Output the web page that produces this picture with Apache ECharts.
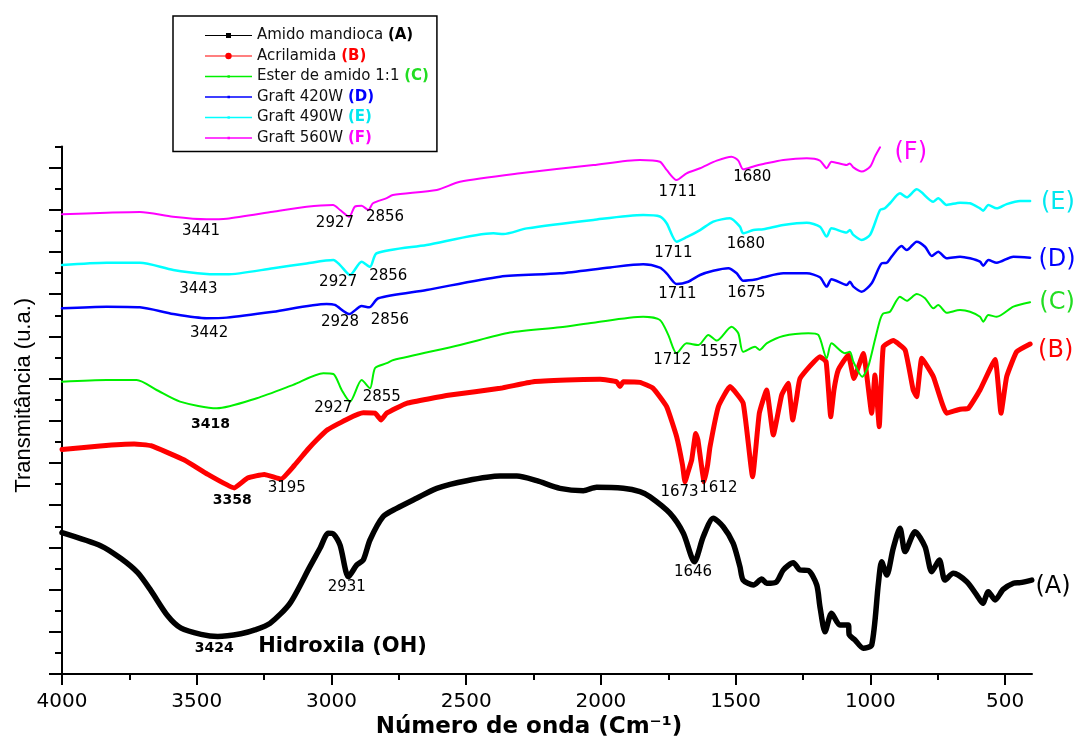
<!DOCTYPE html>
<html>
<head>
<meta charset="utf-8">
<title>FTIR - amido de mandioca</title>
<script src="https://cdn.jsdelivr.net/npm/echarts@6/dist/echarts.min.js"></script>
<style>
  html, body { margin: 0; padding: 0; background: #fff; }
  #chart { width: 1082px; height: 740px; }
</style>
</head>
<body>
<div id="chart"></div>
<script>
const amidoMandioca = [[4000,6.70],[3855,6.07],[3781,5.47],[3719,4.80],[3670,3.95],[3608,2.76],[3558,2.17],[3484,1.88],[3422,1.78],[3336,1.91],[3284,2.09],[3228,2.40],[3154,3.35],[3080,5.09],[3042,5.97],[3012,6.67],[2993,6.64],[2968,6.11],[2937,4.61],[2906,5.17],[2882,5.40],[2857,6.35],[2808,7.46],[2758,7.85],[2684,8.33],[2609,8.80],[2498,9.16],[2374,9.38],[2312,9.38],[2238,9.16],[2152,8.80],[2065,8.69],[2016,8.85],[1917,8.80],[1855,8.64],[1818,8.40],[1744,7.62],[1694,6.67],[1653,5.32],[1620,6.51],[1583,7.38],[1546,6.98],[1509,6.19],[1484,5.09],[1472,4.45],[1434,4.22],[1403,4.50],[1385,4.30],[1348,4.37],[1323,4.93],[1286,5.27],[1261,4.93],[1230,4.90],[1199,4.22],[1187,3.19],[1168,2.00],[1144,2.88],[1113,2.32],[1082,2.32],[1078,1.85],[1057,1.61],[1026,1.22],[995,1.37],[970,4.30],[958,5.32],[939,4.69],[915,5.96],[890,6.91],[871,5.80],[834,6.74],[797,6.03],[772,4.85],[744,5.40],[723,4.45],[692,4.77],[642,4.37],[605,3.74],[583,3.35],[562,3.90],[537,3.51],[507,4.01],[469,4.30],[444,4.33],[401,4.45]];

const acrilamida = [[4000,10.64],[3859,10.81],[3732,10.90],[3670,10.82],[3546,10.14],[3459,9.46],[3361,8.82],[3311,9.29],[3249,9.46],[3187,9.24],[3138,9.88],[3088,10.64],[3055,11.09],[3014,11.58],[2940,12.09],[2882,12.38],[2838,12.36],[2816,12.04],[2795,12.36],[2721,12.83],[2560,13.22],[2374,13.54],[2251,13.85],[2127,13.93],[2003,13.97],[1941,13.85],[1929,13.62],[1917,13.85],[1855,13.82],[1806,13.54],[1756,12.67],[1719,11.25],[1697,9.90],[1688,9.11],[1676,9.60],[1663,10.14],[1648,11.40],[1640,11.10],[1628,10.00],[1617,9.11],[1604,9.90],[1595,10.77],[1564,12.67],[1521,13.62],[1472,12.84],[1437,9.35],[1412,12.36],[1385,13.46],[1360,11.33],[1329,13.22],[1305,13.78],[1288,12.04],[1273,13.14],[1261,14.01],[1187,15.04],[1164,14.79],[1147,12.19],[1135,13.46],[1119,14.41],[1082,15.12],[1061,14.01],[1026,15.19],[995,12.36],[983,14.17],[967,11.72],[952,15.51],[915,15.80],[871,15.36],[841,13.46],[828,13.14],[809,14.96],[766,14.09],[717,12.36],[667,12.55],[636,12.59],[593,13.46],[537,14.91],[515,12.36],[494,14.09],[457,15.27],[407,15.64]];

const esterAmido = [[4000,13.85],[3834,13.93],[3723,13.93],[3649,13.46],[3562,12.91],[3426,12.59],[3277,13.07],[3142,13.70],[3030,14.25],[2993,14.22],[2962,13.46],[2931,12.91],[2888,13.93],[2857,13.54],[2838,14.50],[2795,14.73],[2770,14.88],[2523,15.59],[2337,16.18],[2152,16.43],[2028,16.65],[1843,16.93],[1781,16.78],[1750,16.07],[1719,15.20],[1682,15.67],[1638,15.59],[1601,16.07],[1570,15.80],[1515,16.46],[1490,16.15],[1472,15.27],[1428,15.51],[1410,15.36],[1385,15.67],[1323,16.02],[1230,16.15],[1193,16.07],[1162,14.96],[1144,15.67],[1095,15.20],[1076,15.27],[1063,14.80],[1030,14.09],[1008,14.56],[983,15.83],[964,16.78],[952,17.09],[927,17.17],[890,17.88],[865,17.69],[828,18.01],[797,17.81],[766,17.33],[748,17.49],[717,17.12],[667,17.25],[630,17.17],[593,16.93],[581,16.70],[562,17.01],[531,16.93],[469,17.41],[407,17.62]];

const graft420 = [[4000,17.33],[3834,17.41],[3711,17.38],[3587,17.06],[3463,16.86],[3389,16.89],[3216,17.17],[3018,17.54],[2987,17.49],[2934,17.06],[2888,17.44],[2860,17.38],[2826,17.81],[2647,18.20],[2374,18.83],[2152,18.99],[1966,19.27],[1843,19.42],[1781,19.26],[1756,18.99],[1719,18.48],[1676,18.59],[1632,18.91],[1583,19.11],[1527,19.23],[1496,18.99],[1472,18.64],[1422,18.71],[1397,18.80],[1323,18.99],[1236,18.99],[1187,18.80],[1162,18.36],[1144,18.71],[1088,18.44],[1076,18.59],[1063,18.36],[1032,18.12],[995,18.52],[958,19.46],[939,19.49],[921,19.78],[884,20.28],[865,20.09],[828,20.49],[797,20.25],[772,19.81],[748,20.01],[717,19.70],[667,19.78],[630,19.70],[593,19.54],[581,19.35],[562,19.62],[531,19.49],[469,19.78],[407,19.73]];

const graft490 = [[4000,19.38],[3834,19.49],[3711,19.49],[3587,19.15],[3463,18.96],[3389,18.94],[3216,19.23],[3092,19.46],[2993,19.62],[2968,19.38],[2931,18.91],[2888,19.54],[2857,19.30],[2832,19.94],[2647,20.33],[2399,20.89],[2362,20.85],[2275,21.12],[2028,21.52],[1843,21.75],[1781,21.68],[1756,21.36],[1719,20.49],[1682,20.70],[1632,21.04],[1583,21.44],[1521,21.60],[1484,21.20],[1472,20.89],[1434,21.04],[1397,21.08],[1323,21.28],[1236,21.39],[1187,21.20],[1162,20.73],[1144,21.12],[1088,20.92],[1076,21.04],[1063,20.81],[1032,20.57],[1001,20.81],[964,21.99],[946,22.07],[927,22.31],[890,22.78],[865,22.59],[828,22.97],[766,22.38],[748,22.55],[717,22.23],[667,22.34],[630,22.31],[593,22.07],[581,21.96],[562,22.23],[531,22.07],[494,22.27],[444,22.42],[407,22.42]];

const graft560 = [[4000,21.79],[3834,21.86],[3711,21.90],[3588,21.67],[3463,21.55],[3389,21.58],[3217,21.91],[3092,22.15],[2994,22.23],[2968,21.99],[2934,21.67],[2913,22.15],[2888,22.19],[2863,21.99],[2846,22.31],[2795,22.55],[2772,22.70],[2609,22.94],[2523,23.33],[2300,23.73],[2028,24.12],[1855,24.36],[1781,24.28],[1756,23.89],[1719,23.41],[1682,23.73],[1632,23.97],[1570,24.33],[1515,24.52],[1490,24.33],[1472,23.92],[1428,24.08],[1397,24.17],[1323,24.36],[1236,24.44],[1187,24.33],[1162,23.97],[1144,24.28],[1088,24.12],[1076,24.20],[1063,24.01],[1032,23.81],[1001,24.04],[983,24.52],[964,24.96]];

// eixos
const xMajorTicks = [4000, 3500, 3000, 2500, 2000, 1500, 1000, 500];
const xMinorTicks = [3750, 3250, 2750, 2250, 1750, 1250, 750];
const yMajorTicks = [0, 2, 4, 6, 8, 10, 12, 14, 16, 18, 20, 22, 24];
const yMinorTicks = [1, 3, 5, 7, 9, 11, 13, 15, 17, 19, 21, 23, 25];

// legenda
const seriesNames = ['Amido mandioca', 'Acrilamida', 'Ester de amido 1:1', 'Graft 420W', 'Graft 490W', 'Graft 560W'];
const seriesTags = ['A', 'B', 'C', 'D', 'E', 'F'];

// anotacoes dos picos: [numero de onda, transmitancia, texto]
const peakLabels = [
  [3484, 21.00, '3441'], [2987, 21.36, '2927'], [2801, 21.64, '2856'], [1715, 22.85, '1711'], [1438, 23.57, '1680'],
  [3494, 18.25, '3443'], [2975, 18.59, '2927'], [2789, 18.86, '2856'], [1731, 19.94, '1711'], [1462, 20.38, '1680'],
  [3454, 16.15, '3442'], [2968, 16.66, '2928'], [2783, 16.75, '2856'], [1716, 18.00, '1711'], [1460, 18.06, '1675'],
  [2993, 12.59, '2927'], [2813, 13.10, '2855'], [1735, 14.88, '1712'], [1562, 15.27, '1557'],
  [3166, 8.80, '3195'], [1708, 8.64, '1673'], [1564, 8.79, '1612'],
  [2943, 4.14, '2931'], [1658, 4.83, '1646']
];
const boldPeakLabels = [[3449, 11.84, '3418'], [3368, 8.24, '3358'], [3435, 1.20, '3424']];
const bandLabels = [[2959, 1.29, 'Hidroxila (OH)']];
const curveTags = [[322, 4.14, '(A)'], [312, 15.32, '(B)'], [307, 17.58, '(C)'], [307, 19.62, '(D)'], [304, 22.35, '(E)'], [850, 24.72, '(F)']];

const FONT = 'DejaVu Sans';
const colors = ['#000000', '#ff0000', '#00f000', '#0000ff', '#00ffff', '#ff00ff'];
const tagColors = ['#000000', '#ff0000', '#22dd22', '#0000ff', '#00e8f0', '#ff00ff'];
const widths = [5.5, 5, 2, 2.5, 2.5, 2];
const allData = [amidoMandioca, acrilamida, esterAmido, graft420, graft490, graft560];

// icones da legenda: linha fina com marcador (caixa 47 x 14)
const pad = 'M0,0h0.02v0.02zM47,14h-0.02v-0.02z';
const icons = [
  'path://' + pad + 'M0,6.5h47v1h-47zM21,4.5h5v5h-5z',
  'path://' + pad + 'M0,6.5h47v1h-47zM20.3,7a3.2,3.2 0 1,1 6.4,0a3.2,3.2 0 1,1 -6.4,0z',
  'path://' + pad + 'M0,6.2h47v1.6h-47zM22.5,5.8h2.4v2.4h-2.4z',
  'path://' + pad + 'M0,6.2h47v1.6h-47zM22.5,5.8h2.4v2.4h-2.4z',
  'path://' + pad + 'M0,6.2h47v1.6h-47zM22.5,5.8h2.4v2.4h-2.4z',
  'path://' + pad + 'M0,6.2h47v1.6h-47zM22.5,5.8h2.4v2.4h-2.4z'
];

const rich = {};
seriesTags.forEach((t, i) => {
  rich['t' + t] = { fontFamily: FONT, fontSize: 15, fontWeight: 'bold', color: tagColors[i] };
});
rich.n = { fontFamily: FONT, fontSize: 15, color: '#111' };

const lineSeries = seriesNames.map((name, i) => ({
  name: name,
  type: 'line',
  data: allData[i],
  showSymbol: false,
  smooth: i === 1 ? 0.12 : 0.25,
  color: colors[i],
  lineStyle: { color: colors[i], width: widths[i], cap: 'round', join: 'round' },
  z: 2 + i
}));

function textPoint(item, style) {
  return {
    value: [item[0], item[1]],
    label: Object.assign({
      show: true, position: 'inside', formatter: item[2], fontFamily: FONT,
      color: '#000', opacity: 1, textBorderWidth: 0
    }, style)
  };
}

const annotationData = []
  .concat(peakLabels.map(p => textPoint(p, { fontSize: 15 })))
  .concat(boldPeakLabels.map(p => textPoint(p, { fontSize: 14, fontWeight: 'bold' })))
  .concat(bandLabels.map(p => textPoint(p, { fontSize: 21, fontWeight: 'bold' })))
  .concat(curveTags.map((p, i) => textPoint(p, { fontSize: 24, color: tagColors[i] })));

const chart = echarts.init(document.getElementById('chart'));
chart.setOption({
  animation: false,
  backgroundColor: '#fff',
  grid: { left: 62, right: 50, top: 146.5, bottom: 66, containLabel: false, outerBoundsMode: 'none' },
  legend: {
    orient: 'vertical',
    left: 173,
    top: 16,
    itemWidth: 47,
    itemHeight: 14,
    itemGap: 5.5,
    padding: [12, 8, 6, 32],
    borderColor: '#000',
    borderWidth: 1.5,
    backgroundColor: '#fff',
    selectedMode: false,
    itemStyle: { borderWidth: 0 },
    textStyle: { fontFamily: FONT, fontSize: 15, color: '#111', rich: rich },
    formatter: function (name) {
      const i = seriesNames.indexOf(name);
      return '{n|' + name + '} {t' + seriesTags[i] + '|(' + seriesTags[i] + ')}';
    },
    data: seriesNames.map((name, i) => ({ name: name, icon: icons[i] }))
  },
  xAxis: [{
    type: 'value',
    inverse: true,
    min: 400,
    max: 4000,
    position: 'bottom',
    name: 'Número de onda (Cm⁻¹)',
    nameLocation: 'middle',
    nameGap: 42,
    nameMoveOverlap: false,
    nameTextStyle: { fontFamily: FONT, fontWeight: 'bold', fontSize: 23, color: '#000', padding: [0, 36, 0, 0] },
    axisLine: { onZero: false, lineStyle: { color: '#000', width: 2 } },
    axisTick: { customValues: xMajorTicks, length: 11, lineStyle: { color: '#000', width: 2 } },
    axisLabel: {
      customValues: xMajorTicks, margin: 18, fontFamily: FONT, fontSize: 20, color: '#000',
      formatter: function (v) { return String(v); }
    },
    splitLine: { show: false }
  }, {
    type: 'value',
    inverse: true,
    min: 400,
    max: 4000,
    position: 'bottom',
    axisLine: { show: false, onZero: false },
    axisTick: { customValues: xMinorTicks, length: 6, lineStyle: { color: '#000', width: 2 } },
    axisLabel: { show: false },
    splitLine: { show: false }
  }],
  yAxis: [{
    type: 'value',
    min: 0,
    max: 25,
    position: 'left',
    name: 'Transmitância (u.a.)',
    nameLocation: 'middle',
    nameGap: 27,
    nameRotate: 90,
    nameMoveOverlap: false,
    nameTextStyle: { fontFamily: 'Liberation Sans', fontSize: 22, color: '#000', padding: [0, 0, 0, 30] },
    axisLine: { show: true, onZero: false, lineStyle: { color: '#000', width: 2 } },
    axisTick: { customValues: yMajorTicks, length: 13, lineStyle: { color: '#000', width: 2 } },
    axisLabel: { show: false },
    splitLine: { show: false }
  }, {
    type: 'value',
    min: 0,
    max: 25,
    position: 'left',
    axisLine: { show: false, onZero: false },
    axisTick: { customValues: yMinorTicks, length: 7, lineStyle: { color: '#000', width: 2 } },
    axisLabel: { show: false },
    splitLine: { show: false }
  }],
  series: lineSeries.concat([{
    name: 'anotacoes',
    type: 'scatter',
    silent: true,
    clip: false,
    symbolSize: 1,
    itemStyle: { color: 'rgba(0,0,0,0)', opacity: 1 },
    data: annotationData,
    z: 20
  }])
});
</script>
</body>
</html>
